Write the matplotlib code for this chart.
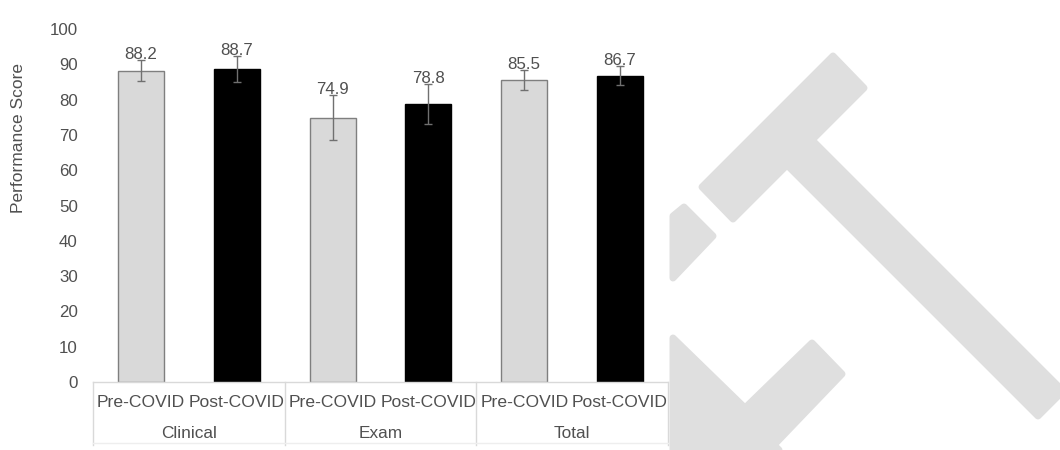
import numpy as np
import matplotlib
matplotlib.use("Agg")
import matplotlib.pyplot as plt
from matplotlib.patches import Polygon
from matplotlib.transforms import Affine2D

plt.rcParams['font.family'] = ['Liberation Sans', 'DejaVu Sans']

# data
groups = ["Clinical", "Exam", "Total"]
periods = ["Pre-COVID", "Post-COVID"]
scores = [88.2, 88.7, 74.9, 78.8, 85.5, 86.7]
errors = [3.0, 3.6, 6.3, 5.7, 2.85, 2.7]
y_ticks = [0, 10, 20, 30, 40, 50, 60, 70, 80, 90, 100]

txt_col = "#505050"
line_col = "#d9d9d9"

fig = plt.figure(figsize=(10.6, 4.5), dpi=100)

# background watermark (pixel coords of the picture)
W, H = 1060, 450
px = Affine2D().scale(1 / W, -1 / H).translate(0, 1) + fig.transFigure
wm_shapes = [
    [(833, 56), (864, 88), (733, 219), (702, 187)],
    [(812, 140), (1063, 391), (1038, 416), (787, 165)],
    [(673, 216), (684, 207), (713, 236), (673, 278)],
    [(673, 338), (745, 408), (812, 343), (842, 374), (774, 445),
     (779, 450), (673, 450)],
]
for pts in wm_shapes:
    fig.patches.append(Polygon(pts, closed=True, transform=px, facecolor="#dfdfdf",
                               edgecolor="#dfdfdf", linewidth=5, joinstyle="round",
                               zorder=0))

ax = fig.add_axes([93 / W, 1 - 382 / H, (668 - 93) / W, (382 - 29) / H])
ax.set_facecolor("none")

x = np.arange(len(scores))
face = ["#d9d9d9" if i % 2 == 0 else "black" for i in x]
edge = ["#7f7f7f" if i % 2 == 0 else "black" for i in x]
ax.bar(x, scores, width=0.48, color=face, edgecolor=edge, linewidth=1, zorder=2)
ax.errorbar(x, scores, yerr=errors, fmt="none", ecolor="#707070", elinewidth=1,
            capsize=3, capthick=1, zorder=3)

for xi, v, e in zip(x, scores, errors):
    ax.text(xi, v + e + 1.6, f"{v:.1f}", ha="center", va="center",
            fontsize=12.2, color=txt_col, zorder=4)

ax.set_xlim(-0.5, len(scores) - 0.5)
ax.set_ylim(0, 100)
ax.set_yticks(y_ticks)
ax.tick_params(axis="y", length=0, pad=11, labelsize=12.2, labelcolor=txt_col)
ax.set_xticks([])

for s in ["top", "right", "left"]:
    ax.spines[s].set_visible(False)
ax.spines["bottom"].set_color(line_col)
ax.spines["bottom"].set_linewidth(1)

ax.set_ylabel("Performance Score", fontsize=12.5, color=txt_col)
ax.yaxis.set_label_coords(-0.1165, 0.691)

# multi-level category axis
tr = ax.get_xaxis_transform()
for i, xi in enumerate(x):
    ax.text(xi, -0.057, periods[i % 2], transform=tr, ha="center", va="center",
            fontsize=12.6, color=txt_col, clip_on=False)
for g, name in enumerate(groups):
    ax.text(2 * g + 0.5, -0.145, name, transform=tr, ha="center", va="center",
            fontsize=12.4, color=txt_col, clip_on=False)
for b in np.arange(-0.5, len(scores), 2):
    ax.plot([b, b], [0, -0.178], transform=tr, color=line_col, lw=1, clip_on=False)
ax.plot([-0.5, len(scores) - 0.5], [-0.172, -0.172], transform=tr, color="#eeeeee",
        lw=1, clip_on=False)

fig.savefig("out.png", dpi=100)
